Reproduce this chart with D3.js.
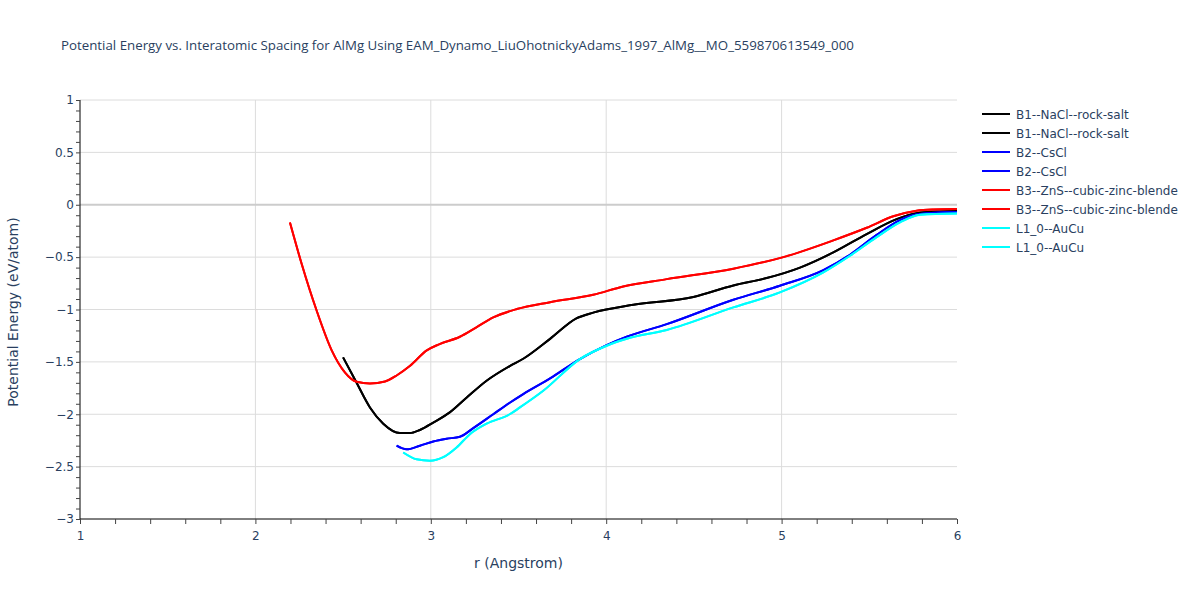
<!DOCTYPE html>
<html>
<head>
<meta charset="utf-8">
<script src="https://cdn.jsdelivr.net/npm/d3@7"></script>
<style>
  body { margin: 0; background: #fff; }
  text { font-family: "DejaVu Sans", Verdana, sans-serif; fill: #2a3f5f; }
  text.title { font-family: "Open Sans", "Noto Sans", sans-serif; }
</style>
</head>
<body>
<div id="chart"></div>
<script>
"use strict";

// data (r in Angstrom, E in eV/atom)
var b1R = [2.50, 2.577, 2.653, 2.729, 2.824, 2.88, 2.938, 3.014, 3.11, 3.205, 3.318, 3.45, 3.527, 3.68, 3.83, 3.926, 4.155, 4.497, 4.725, 4.915, 5.105, 5.295, 5.485, 5.656, 5.77, 5.90, 6.0];
var b1E = [-1.457, -1.70, -1.935, -2.09, -2.18, -2.18, -2.15, -2.08, -1.98, -1.84, -1.68, -1.54, -1.47, -1.28, -1.085, -1.03, -0.955, -0.88, -0.77, -0.70, -0.60, -0.455, -0.28, -0.137, -0.08, -0.064, -0.06];

var b2R = [2.805, 2.862, 2.938, 3.014, 3.09, 3.166, 3.24, 3.356, 3.45, 3.527, 3.68, 3.85, 4.003, 4.117, 4.345, 4.725, 4.99, 5.238, 5.39, 5.54, 5.675, 5.79, 6.0];
var b2E = [-2.30, -2.335, -2.30, -2.26, -2.234, -2.215, -2.135, -2.00, -1.89, -1.807, -1.658, -1.473, -1.34, -1.26, -1.14, -0.907, -0.773, -0.624, -0.477, -0.29, -0.146, -0.089, -0.07];

var b3R = [2.197, 2.264, 2.349, 2.435, 2.51, 2.577, 2.653, 2.739, 2.805, 2.88, 2.977, 3.05, 3.166, 3.26, 3.356, 3.49, 3.68, 3.926, 4.097, 4.345, 4.725, 5.01, 5.295, 5.485, 5.637, 5.77, 5.865, 6.0];
var b3E = [-0.17, -0.566, -1.01, -1.39, -1.60, -1.69, -1.706, -1.687, -1.63, -1.54, -1.39, -1.33, -1.26, -1.17, -1.076, -0.996, -0.93, -0.86, -0.78, -0.71, -0.61, -0.50, -0.34, -0.22, -0.11, -0.057, -0.045, -0.04];

var l10R = [2.843, 2.919, 2.995, 3.071, 3.147, 3.223, 3.318, 3.45, 3.508, 3.641, 3.85, 4.003, 4.117, 4.345, 4.725, 4.99, 5.238, 5.39, 5.54, 5.675, 5.79, 6.0];
var l10E = [-2.365, -2.43, -2.444, -2.41, -2.317, -2.19, -2.09, -2.0, -1.935, -1.776, -1.473, -1.346, -1.28, -1.196, -0.98, -0.837, -0.646, -0.487, -0.312, -0.169, -0.095, -0.083];

var seriesNames = ["B1--NaCl--rock-salt", "B1--NaCl--rock-salt", "B2--CsCl", "B2--CsCl",
  "B3--ZnS--cubic-zinc-blende", "B3--ZnS--cubic-zinc-blende", "L1_0--AuCu", "L1_0--AuCu"];
var seriesColors = ["#000000", "#000000", "#0000ff", "#0000ff", "#ff0000", "#ff0000", "#00ffff", "#00ffff"];

var xTicks = [1, 2, 3, 4, 5, 6];
var yTicks = [1, 0.5, 0, -0.5, -1, -1.5, -2, -2.5, -3];

var titleText = "Potential Energy vs. Interatomic Spacing for AlMg Using EAM_Dynamo_LiuOhotnickyAdams_1997_AlMg__MO_559870613549_000";

function zip(rs, es) {
  return rs.map(function(r, i) { return { r: r, e: es[i] }; });
}

var series = [
  zip(b1R, b1E), zip(b1R, b1E),
  zip(b2R, b2E), zip(b2R, b2E),
  zip(b3R, b3E), zip(b3R, b3E),
  zip(l10R, l10E), zip(l10R, l10E)
];

var W = 1200, H = 600;
var m = { left: 80, right: 243, top: 100, bottom: 81 };

var svg = d3.select("#chart").append("svg")
  .attr("width", W).attr("height", H);

var x = d3.scaleLinear().domain([1, 6]).range([m.left, W - m.right]);
var y = d3.scaleLinear().domain([-3, 1]).range([H - m.bottom, m.top]);

// grid
var grid = svg.append("g");
grid.selectAll("line.gx")
  .data(xTicks.filter(function(d) { return d > 1 && d < 6; }))
  .enter().append("line")
  .attr("x1", function(d) { return x(d); }).attr("x2", function(d) { return x(d); })
  .attr("y1", y(1)).attr("y2", y(-3))
  .attr("stroke", "#dcdcdc").attr("stroke-width", 1);
grid.selectAll("line.gy")
  .data(yTicks.filter(function(d) { return d > -3; }))
  .enter().append("line")
  .attr("x1", x(1)).attr("x2", x(6))
  .attr("y1", function(d) { return y(d); }).attr("y2", function(d) { return y(d); })
  .attr("stroke", function(d) { return d === 0 ? "#cccccc" : "#dcdcdc"; })
  .attr("stroke-width", function(d) { return d === 0 ? 2 : 1; });

// curves
var line = d3.line()
  .x(function(d) { return x(d.r); })
  .y(function(d) { return y(d.e); })
  .curve(d3.curveMonotoneX);

var plot = svg.append("g");
plot.selectAll("path")
  .data(series)
  .enter().append("path")
  .attr("d", line)
  .attr("fill", "none")
  .attr("stroke", function(d, i) { return seriesColors[i]; })
  .attr("stroke-width", 2);

// axes
var xAxis = svg.append("g")
  .attr("transform", "translate(0," + y(-3) + ")")
  .call(d3.axisBottom(x).tickValues(d3.range(1, 6.01, 0.2)).tickSize(5)
    .tickFormat(function(d) { return Math.abs(d - Math.round(d)) < 1e-6 ? d3.format("d")(Math.round(d)) : ""; }));
xAxis.select(".domain").attr("stroke", "#000").attr("d", "M" + x(1) + ",0H" + x(6));
xAxis.selectAll(".tick line").attr("stroke", "#444");
xAxis.selectAll(".tick text").attr("dy", "1.1em").style("font-size", "12px").attr("fill", "#2a3f5f")
  .style("font-family", "DejaVu Sans, sans-serif");

var yAxis = svg.append("g")
  .attr("transform", "translate(" + x(1) + ",0)")
  .call(d3.axisLeft(y).tickValues(d3.range(-30, 11, 1).map(function(v) { return v / 10; })).tickSize(4)
    .tickFormat(function(d) {
      var v = Math.round(d * 10);
      return v % 5 === 0 ? d3.format("")(v / 10).replace("-", "\u2212") : "";
    }));
yAxis.select(".domain").attr("stroke", "#000").attr("d", "M0," + y(-3) + "V" + y(1));
yAxis.selectAll(".tick line").attr("stroke", "#444");
yAxis.selectAll(".tick text").attr("x", -6).style("font-size", "12px").attr("fill", "#2a3f5f")
  .style("font-family", "DejaVu Sans, sans-serif");

// titles
svg.append("text")
  .attr("class", "title")
  .attr("x", 61).attr("y", 50)
  .style("font-size", "13.3px")
  .text(titleText);

svg.append("text")
  .attr("x", (x(1) + x(6)) / 2).attr("y", 568)
  .attr("text-anchor", "middle")
  .style("font-size", "14px")
  .text("r (Angstrom)");

svg.append("text")
  .attr("transform", "translate(18,312) rotate(-90)")
  .attr("text-anchor", "middle")
  .style("font-size", "14px")
  .text("Potential Energy (eV/atom)");

// legend
var legend = svg.append("g").attr("transform", "translate(982,114)");
var items = legend.selectAll("g")
  .data(seriesNames)
  .enter().append("g")
  .attr("transform", function(d, i) { return "translate(0," + i * 19 + ")"; });
items.append("line")
  .attr("x1", 0).attr("x2", 28)
  .attr("stroke", function(d, i) { return seriesColors[i]; })
  .attr("stroke-width", 2);
items.append("text")
  .attr("x", 34).attr("y", 4.5)
  .style("font-size", "12px")
  .text(function(d) { return d; });
</script>
</body>
</html>
